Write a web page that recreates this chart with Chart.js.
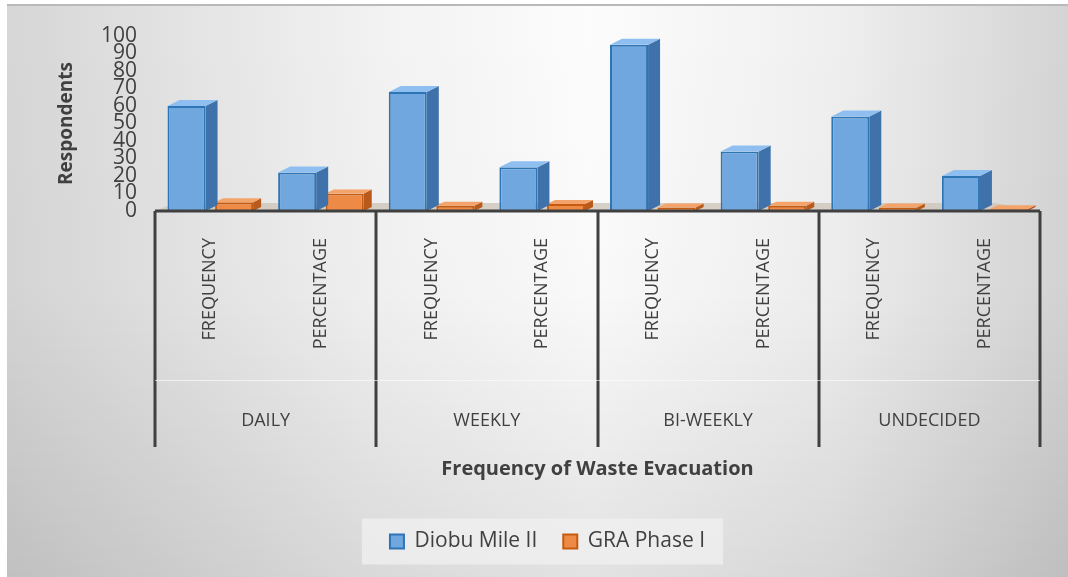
<!DOCTYPE html>
<html>
<head>
<meta charset="utf-8">
<script src="https://cdn.jsdelivr.net/npm/chart.js@4/dist/chart.umd.min.js"></script>
<style>
html,body{margin:0;padding:0;background:#fff;}
#wrap{width:1068px;height:577px;position:relative;}
</style>
</head>
<body>
<div id="wrap"><canvas id="c" width="1068" height="577"></canvas></div>
<script>
const subCategories = ["FREQUENCY","PERCENTAGE","FREQUENCY","PERCENTAGE","FREQUENCY","PERCENTAGE","FREQUENCY","PERCENTAGE"];
const groupCategories = ["DAILY","WEEKLY","BI-WEEKLY","UNDECIDED"];
const diobuMileII = [60, 22, 68, 25, 95, 34, 54, 20];
const graPhaseI = [5, 10, 3, 4, 2, 3, 2, 1];
const yTicks = [0,10,20,30,40,50,60,70,80,90,100];

function shade(ctx, pts, fill) {
  ctx.beginPath();
  ctx.moveTo(pts[0][0], pts[0][1]);
  for (let i = 1; i < pts.length; i++) ctx.lineTo(pts[i][0], pts[i][1]);
  ctx.closePath();
  ctx.fillStyle = fill;
  ctx.fill();
}

const bgPlugin = {
  id: 'bg',
  beforeDraw(chart) {
    const ctx = chart.ctx;
    const W = chart.width, H = chart.height;
    ctx.save();
    ctx.fillStyle = '#ffffff';
    ctx.fillRect(0,0,W,H);
    const g = ctx.createLinearGradient(7,0,W,0);
    g.addColorStop(0,'#d6d6d6');
    g.addColorStop(0.35,'#f2f2f2');
    g.addColorStop(0.55,'#fcfcfc');
    g.addColorStop(0.78,'#efefef');
    g.addColorStop(1,'#d4d4d4');
    ctx.fillStyle = g;
    ctx.fillRect(7,5,W-7,H-5);
    const v = ctx.createLinearGradient(0,5,0,H);
    v.addColorStop(0,'rgba(0,0,0,0)');
    v.addColorStop(0.5,'rgba(0,0,0,0.01)');
    v.addColorStop(1,'rgba(0,0,0,0.10)');
    ctx.fillStyle = v;
    ctx.fillRect(7,5,W-7,H-5);
    ctx.fillStyle = '#b9b9b9';
    ctx.fillRect(7,4,W-7,2);
    const lg = chart.legend;
    if (lg && lg.legendItems && lg.legendHitBoxes && lg.legendHitBoxes.length) {
      const hb = lg.legendHitBoxes;
      const l = hb[0].left, r = hb[hb.length-1].left + hb[hb.length-1].width;
      const cy = hb[0].top + hb[0].height/2;
      ctx.fillStyle = 'rgba(240,240,240,0.75)';
      ctx.fillRect(l-28, cy-23, (r-l)+46, 46);
    }
    ctx.restore();
  },
  beforeDatasetsDraw(chart) {
    const ctx = chart.ctx;
    const a = chart.chartArea;
    ctx.save();
    ctx.fillStyle = 'rgba(205,198,185,0.8)';
    ctx.beginPath();
    ctx.moveTo(a.left+20, a.bottom-8);
    ctx.lineTo(a.right-45, a.bottom-8);
    ctx.lineTo(a.right, a.bottom);
    ctx.lineTo(a.left, a.bottom);
    ctx.closePath();
    ctx.fill();
    ctx.restore();
  },
  afterDatasetDraw(chart, args) {
    const ctx = chart.ctx;
    const meta = args.meta;
    const d = args.index === 0 ? 12 : 8;
    const side = args.index === 0 ? '#3f72ab' : '#b85a1c';
    const top = args.index === 0 ? '#8fbff0' : '#f4a36a';
    ctx.save();
    meta.data.forEach(el => {
      const p = el.getProps(['x','y','base','width'], true);
      const l = p.x - p.width/2, r = p.x + p.width/2;
      shade(ctx, [[r, p.y], [r+d, p.y-d/2], [r+d, p.base-d/2], [r, p.base]], side);
      shade(ctx, [[l, p.y], [r, p.y], [r+d, p.y-d/2], [l+d, p.y-d/2]], top);
    });
    ctx.restore();
  },
  afterDraw(chart) {
    const ctx = chart.ctx;
    const x = chart.scales.x;
    const a = chart.chartArea;
    const half = (x.getPixelForValue(1) - x.getPixelForValue(0))/2;
    ctx.save();
    ctx.strokeStyle = '#404040';
    ctx.lineWidth = 3;
    for (let k = 0; k <= groupCategories.length; k++) {
      const idx = Math.min(k*2, subCategories.length-1);
      const px = k*2 < subCategories.length ? x.getPixelForValue(idx) - half : x.getPixelForValue(idx) + half;
      ctx.beginPath();
      ctx.moveTo(Math.round(px), a.bottom);
      ctx.lineTo(Math.round(px), 447);
      ctx.stroke();
    }
    ctx.beginPath();
    ctx.moveTo(a.left, a.bottom);
    ctx.lineTo(a.right, a.bottom);
    ctx.stroke();
    ctx.strokeStyle = 'rgba(255,255,255,0.6)';
    ctx.lineWidth = 1;
    ctx.beginPath();
    ctx.moveTo(a.left, 380.5);
    ctx.lineTo(a.right, 380.5);
    ctx.stroke();
    ctx.restore();
  }
};

new Chart(document.getElementById('c'), {
  type: 'bar',
  data: {
    labels: subCategories,
    datasets: [
      { label: 'Diobu Mile II', data: diobuMileII, backgroundColor: '#6fa7de', borderColor: '#2e75b6', borderWidth: 2, xAxisID: 'x' },
      { label: 'GRA Phase I', data: graPhaseI, backgroundColor: '#ed8a45', borderColor: '#c55a11', borderWidth: 2, xAxisID: 'x' }
    ]
  },
  options: {
    responsive: false,
    animation: false,
    devicePixelRatio: 1,
    layout: { padding: { top: 36, right: 28, left: 55, bottom: 15 } },
    datasets: { bar: { categoryPercentage: 0.86, barPercentage: 0.8 } },
    plugins: {
      legend: {
        position: 'bottom',
        labels: {
          font: { family: 'Open Sans', size: 21 },
          color: '#404040',
          boxWidth: 14, boxHeight: 14,
          padding: 26,
          useBorderRadius: false
        }
      },
      tooltip: { enabled: false }
    },
    scales: {
      x: {
        type: 'category',
        position: 'bottom',
        grid: { display: false },
        border: { display: false },
        ticks: {
          autoSkip: false, maxRotation: 90, minRotation: 90,
          font: { family: 'Open Sans', size: 18 }, color: '#404040', padding: 19
        },
        afterFit(s) { s.height = 170; }
      },
      x2: {
        type: 'category',
        position: 'bottom',
        labels: groupCategories,
        grid: { display: false },
        border: { display: false },
        ticks: { autoSkip: false, maxRotation: 0, font: { family: 'Open Sans', size: 18 }, color: '#404040', padding: 21 },
        title: { display: true, text: 'Frequency of Waste Evacuation', font: { family: 'Open Sans', size: 20, weight: 'bold' }, color: '#404040', padding: { top: 8, bottom: 24 } },
        afterFit(s) { s.height = 124; }
      },
      y: {
        min: 0, max: 100,
        afterBuildTicks(s) { s.ticks = yTicks.map(v => ({ value: v })); },
        grid: { display: false },
        border: { display: false },
        ticks: { autoSkip: false, font: { family: 'Open Sans', size: 21 }, color: '#404040', padding: 10 },
        title: { display: true, text: 'Respondents', font: { family: 'Open Sans', size: 19, weight: 'bold' }, color: '#404040', padding: { top: 0, bottom: 14 } },
        afterFit(s) { s.width = 100; }
      }
    }
  },
  plugins: [bgPlugin]
});
</script>
</body>
</html>
